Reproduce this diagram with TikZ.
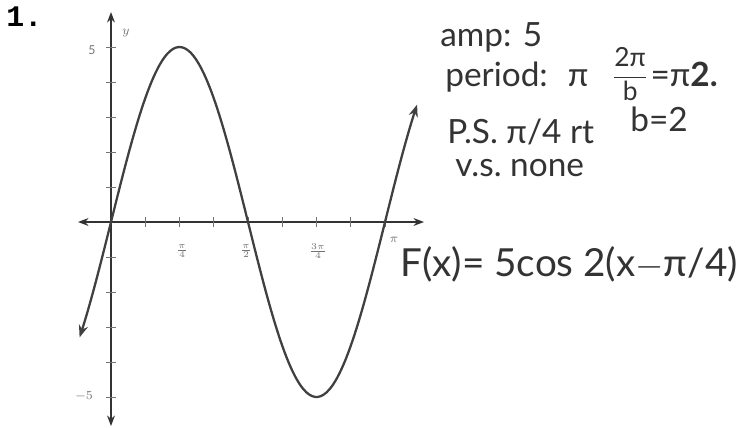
\documentclass[tikz,border=0pt]{standalone}
\usepackage{fontspec}
\usepackage{amsmath}
\setmainfont{Lato}
\newfontfamily\numfont{Liberation Mono}
\usetikzlibrary{arrows.meta, positioning}

\begin{document}
\begin{tikzpicture}[
    x=0.02cm, y=-0.02cm,
    axis/.style={thick, draw=black!80, {Stealth[length=6pt]}-{Stealth[length=6pt]}},
    curve/.style={line width=1.3pt, draw=black!75, {Stealth[length=7pt]}-{Stealth[length=7pt]}},
    tick/.style={thin, draw=black!55},
    ticklabel/.style={font=\scriptsize, text=black!55, inner sep=1pt},
    note/.style={font=\fontsize{19}{21}\selectfont, text=black!80, anchor=west, inner sep=0pt}
]
\useasboundingbox (0,0) rectangle (755,427);

% Axes
\coordinate (o) at (111,222);
\coordinate (ytop) at (111,12);
\coordinate (ybot) at (111,426);
\coordinate (xleft) at (78,222);
\coordinate (xright) at (424,222);
\draw[axis] (ybot) -- (ytop);
\draw[axis] (xleft) -- (xright);

% Ticks
\foreach \k in {1,...,8}
  \draw[tick] ({111+34.25*\k},217) -- ({111+34.25*\k},227);
\foreach \k in {-5,...,-1,1,2,3,4,5}
  \draw[tick] (106,{222-35*\k}) -- (116,{222-35*\k});

% Tick labels
\node[ticklabel] (l1) at (182,251) {$\frac{\pi}{4}$};
\node[ticklabel] (l2) at (246,251) {$\frac{\pi}{2}$};
\node[ticklabel] (l3) at (318,251) {$\frac{3\pi}{4}$};
\node[ticklabel] (l4) at (394,240) {$\pi$};
\node[ticklabel] (yp) at (92,50) {5};
\node[ticklabel] (ym) at (84,396) {$-5$};
\node[ticklabel] (ylab) at (126,33) {$y$};

% Graph
\draw[curve] plot[domain=-0.36:3.51, samples=120, smooth]
  ({111+87.22*\x},{222-175*sin(2*\x r)});

% Notes
\node[font=\numfont\bfseries\fontsize{17}{19}\selectfont, anchor=west, inner sep=0pt] (num) at (6,17) {1.};
\node[note] (amp) at (440,37) {amp: 5};
\node[note] (per) at (445,77) {period:\hspace{0.6em}π};
\node[note, font=\fontsize{15}{17}\selectfont] (frac) at (612,74) {$\dfrac{\text{2π}}{\text{b}}$};
\node[note, right=1pt of frac] (eq) {=π\textbf{2.}};
\node[note] (ps) at (447,132) {P.S.\ π/4 rt};
\node[note] (bval) at (630,119) {b=2};
\node[note] (vs) at (455,168) {v.s.\ none};
\node[note, font=\fontsize{22}{24}\selectfont] (fx) at (400,264) {F(x)= 5cos 2(x$-$π/4)};
\end{tikzpicture}
\end{document}
